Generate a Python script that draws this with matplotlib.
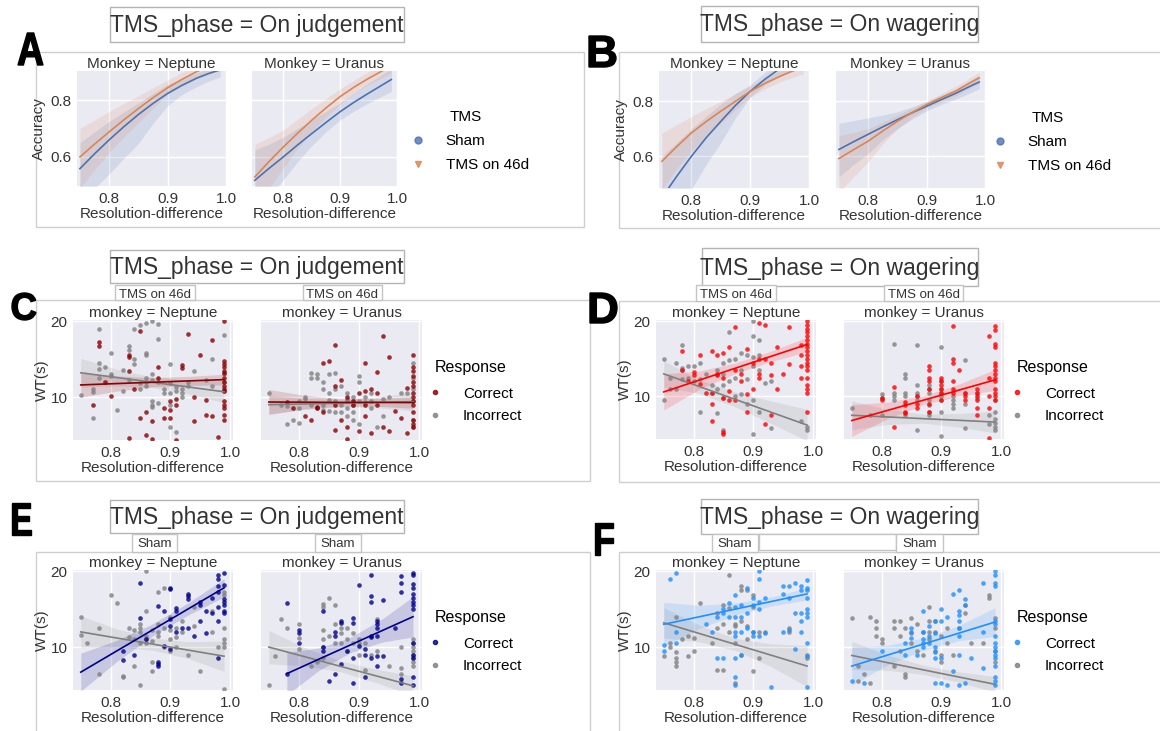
import numpy as np
import matplotlib
matplotlib.use("Agg")
import matplotlib.pyplot as plt
from matplotlib.patches import Rectangle, PathPatch
from matplotlib.lines import Line2D
from matplotlib.textpath import TextPath
from matplotlib.transforms import Affine2D, IdentityTransform
from matplotlib.font_manager import FontProperties

plt.rcParams["font.family"] = ["Liberation Sans", "DejaVu Sans"]

# ---------------- accuracy curves (panels A, B) ----------------
ACC_X = [0.75, 0.775, 0.80, 0.825, 0.85, 0.875, 0.90, 0.925, 0.95, 0.97, 0.99]

A_NEP_SHAM = [0.559, 0.611, 0.66, 0.706, 0.749, 0.788, 0.823, 0.852, 0.877, 0.893, 0.906]
A_NEP_SHAM_LO = [0.44, 0.49, 0.54, 0.595, 0.647, 0.718, 0.78, 0.82, 0.847, 0.866, 0.882]
A_NEP_SHAM_HI = [0.65, 0.688, 0.725, 0.758, 0.79, 0.823, 0.855, 0.876, 0.895, 0.91, 0.925]
A_NEP_TMS = [0.60, 0.645, 0.688, 0.73, 0.77, 0.808, 0.843, 0.873, 0.90, 0.918, 0.935]
A_NEP_TMS_LO = [0.49, 0.555, 0.615, 0.67, 0.72, 0.772, 0.82, 0.85, 0.875, 0.89, 0.905]
A_NEP_TMS_HI = [0.70, 0.73, 0.76, 0.788, 0.815, 0.843, 0.87, 0.898, 0.925, 0.943, 0.96]
A_URA_SHAM = [0.518, 0.56, 0.60, 0.642, 0.682, 0.721, 0.759, 0.793, 0.824, 0.848, 0.872]
A_URA_SHAM_LO = [0.40, 0.46, 0.52, 0.583, 0.64, 0.688, 0.73, 0.762, 0.79, 0.81, 0.83]
A_URA_SHAM_HI = [0.625, 0.645, 0.67, 0.70, 0.73, 0.76, 0.79, 0.825, 0.86, 0.885, 0.91]
A_URA_TMS = [0.53, 0.584, 0.635, 0.683, 0.729, 0.772, 0.812, 0.846, 0.876, 0.898, 0.92]
A_URA_TMS_LO = [0.42, 0.49, 0.56, 0.63, 0.69, 0.74, 0.785, 0.823, 0.855, 0.875, 0.895]
A_URA_TMS_HI = [0.645, 0.668, 0.695, 0.732, 0.77, 0.805, 0.84, 0.87, 0.90, 0.922, 0.945]

B_NEP_SHAM = [0.45, 0.527, 0.60, 0.667, 0.727, 0.785, 0.836, 0.88, 0.918, 0.945, 0.97]
B_NEP_SHAM_LO = [0.30, 0.39, 0.48, 0.57, 0.65, 0.74, 0.815, 0.86, 0.89, 0.912, 0.93]
B_NEP_SHAM_HI = [0.60, 0.65, 0.70, 0.745, 0.79, 0.828, 0.86, 0.905, 0.95, 0.975, 1.0]
B_NEP_TMS = [0.582, 0.635, 0.685, 0.726, 0.764, 0.80, 0.836, 0.865, 0.89, 0.908, 0.925]
B_NEP_TMS_LO = [0.48, 0.555, 0.62, 0.672, 0.72, 0.77, 0.815, 0.845, 0.87, 0.885, 0.90]
B_NEP_TMS_HI = [0.685, 0.715, 0.745, 0.773, 0.80, 0.828, 0.855, 0.883, 0.91, 0.93, 0.95]
B_URA_SHAM = [0.625, 0.653, 0.68, 0.707, 0.733, 0.758, 0.782, 0.806, 0.829, 0.85, 0.87]
B_URA_SHAM_LO = [0.525, 0.57, 0.61, 0.66, 0.70, 0.735, 0.765, 0.788, 0.808, 0.826, 0.845]
B_URA_SHAM_HI = [0.72, 0.73, 0.74, 0.75, 0.762, 0.78, 0.80, 0.822, 0.845, 0.87, 0.895]
B_URA_TMS = [0.592, 0.624, 0.655, 0.692, 0.727, 0.759, 0.788, 0.813, 0.837, 0.862, 0.885]
B_URA_TMS_LO = [0.47, 0.525, 0.58, 0.645, 0.70, 0.742, 0.775, 0.798, 0.82, 0.843, 0.865]
B_URA_TMS_HI = [0.675, 0.687, 0.70, 0.725, 0.75, 0.775, 0.80, 0.828, 0.855, 0.88, 0.905]

# ---------------- waiting time scatter (panels C-F) ----------------
# resolution-difference -> WT values
C_NEP_COR = {0.77: [9.0], 0.78: [17.2, 16.7], 0.79: [12.0], 0.80: [10.2],
             0.83: [15.5, 15.3, 13.5, 4.6], 0.84: [11.0], 0.85: [18.7, 7.2],
             0.86: [8.0, 5.0], 0.87: [6.8, 4.5], 0.88: [14.0, 12.5], 0.89: [8.5, 7.2],
             0.90: [9.5, 8.3, 7.3], 0.91: [9.7, 9.0, 4.3], 0.92: [14.2, 13.8],
             0.93: [18.3], 0.94: [6.8, 10.0], 0.95: [15.5], 0.96: [9.6, 7.7],
             0.97: [17.5, 7.5], 0.98: [4.7],
             0.99: [20.0, 14.7, 14.3, 14.0, 13.5, 13.2, 12.5, 12.0, 11.5, 11.0,
                    10.8, 9.5, 9.0, 8.5, 7.7, 7.0]}
C_NEP_INC = {0.75: [10.3], 0.77: [11.0, 10.7, 7.2], 0.78: [18.9, 14.5, 13.7, 12.5],
             0.79: [14.0], 0.80: [15.8, 13.0, 12.8], 0.81: [8.3], 0.82: [13.6, 10.8],
             0.83: [16.7, 16.2, 12.2], 0.84: [19.0, 15.0, 14.3], 0.85: [19.5, 11.8, 11.0],
             0.86: [19.8, 15.8, 15.5, 12.5, 12.0, 11.5],
             0.87: [20.0, 13.0, 12.2, 9.5, 9.0, 8.7], 0.88: [19.6, 17.7, 12.0, 9.2],
             0.89: [11.0, 10.5], 0.90: [14.3, 11.8, 10.5, 9.0, 6.0],
             0.91: [11.3, 10.8, 5.4], 0.92: [11.0, 10.5, 10.0], 0.93: [12.0, 11.5],
             0.94: [13.5], 0.96: [12.2], 0.97: [15.0, 11.5],
             0.99: [18.2, 13.0, 12.0, 10.8]}
C_URA_COR = {0.78: [9.3], 0.79: [8.5], 0.81: [7.5], 0.82: [7.0], 0.83: [8.7, 8.5],
             0.84: [14.5, 8.0], 0.85: [14.8], 0.86: [16.8, 11.5, 9.0, 5.7],
             0.87: [12.2, 7.0], 0.88: [10.0, 6.0, 4.5], 0.89: [9.5, 9.0],
             0.90: [10.5, 5.5], 0.91: [14.5, 10.8, 9.0, 7.5], 0.92: [11.0, 5.3],
             0.93: [13.3, 10.5, 9.0], 0.94: [18.1, 6.0], 0.95: [15.3, 5.5],
             0.96: [8.2], 0.97: [7.2], 0.98: [11.2, 5.3],
             0.99: [15.5, 14.0, 13.5, 12.8, 12.0, 11.5, 10.5, 10.0, 9.5, 9.0,
                    8.0, 7.0, 6.5, 6.0]}
C_URA_INC = {0.75: [10.5], 0.77: [9.0], 0.78: [8.8, 6.5], 0.79: [7.0],
             0.80: [9.5, 8.5, 6.6], 0.81: [10.0, 9.8], 0.82: [13.2, 12.5, 9.0],
             0.83: [13.0, 12.5, 8.5], 0.84: [12.0, 11.0, 9.0, 8.3],
             0.85: [13.0, 10.5, 9.6, 8.2], 0.86: [13.2, 11.0, 9.5, 8.0],
             0.87: [11.5, 9.0, 8.0], 0.88: [10.5, 9.8, 9.5, 8.5, 7.5],
             0.89: [10.0, 9.5, 9.0, 8.0, 7.0], 0.90: [12.8, 12.0, 9.5, 6.5],
             0.91: [10.0, 9.3], 0.92: [10.5, 9.5, 8.5], 0.93: [6.0], 0.94: [9.8, 7.5],
             0.95: [10.0], 0.97: [10.5], 0.98: [10.5],
             0.99: [14.5, 12.5, 11.0, 9.5, 7.0, 6.0]}

D_NEP_COR = {0.78: [16.0, 13.5], 0.79: [12.0], 0.80: [13.2, 12.8], 0.81: [15.5, 11.7],
             0.82: [10.5], 0.83: [16.0, 10.5, 9.0, 6.8], 0.84: [15.5, 13.0, 12.8],
             0.85: [15.8, 12.5, 9.8, 5.3, 5.0], 0.86: [16.5, 10.7, 9.5],
             0.87: [19.2, 13.5, 9.5], 0.88: [13.0, 12.0], 0.89: [16.3, 10.3, 8.0],
             0.90: [14.5, 11.0], 0.91: [19.8, 15.0, 13.0, 12.5],
             0.92: [19.5, 15.0, 6.3], 0.93: [14.5, 12.8, 7.5], 0.94: [16.5, 11.0],
             0.95: [13.0], 0.96: [19.2, 14.3], 0.98: [16.8, 15.5, 14.0, 12.5],
             0.99: [20.0, 19.5, 19.0, 18.5, 18.0, 17.5, 17.0, 16.5, 16.0, 15.5,
                    15.0, 14.5, 14.0, 13.5, 12.5, 11.5, 11.0, 10.5, 8.0]}
D_NEP_INC = {0.75: [15.0, 9.5], 0.76: [12.5, 11.0], 0.77: [14.5, 11.0],
             0.78: [16.8, 13.8, 13.5, 12.3], 0.79: [14.0, 12.5], 0.80: [14.0, 12.0],
             0.81: [14.5, 12.3, 8.0], 0.82: [13.0], 0.83: [11.5, 10.5],
             0.84: [13.5, 11.0, 7.8], 0.85: [14.5, 13.0, 11.5, 9.8, 5.5],
             0.86: [18.5, 14.8, 12.0], 0.87: [15.0, 12.5, 10.0],
             0.88: [15.8, 13.5, 10.3], 0.89: [15.5, 12.3, 9.0],
             0.90: [20.0, 18.0, 15.3, 14.0, 9.5, 5.0], 0.91: [17.5, 15.5, 13.5, 8.0],
             0.92: [11.8], 0.93: [12.0, 5.8], 0.98: [6.8], 0.99: [6.0, 5.5]}
D_URA_COR = {0.80: [9.8, 9.5], 0.82: [11.3, 6.0], 0.84: [9.3, 8.8, 8.0, 7.8],
             0.86: [10.0, 9.0, 8.5], 0.88: [14.0, 13.5, 12.5, 12.0, 11.0, 9.0, 8.0],
             0.90: [12.5, 12.0, 11.5, 11.0, 10.5, 9.5],
             0.92: [19.3, 15.0, 14.5, 12.0, 11.0, 10.5], 0.93: [13.5],
             0.94: [10.5, 10.0, 9.5], 0.96: [11.0, 10.5, 10.0, 9.5, 8.5, 7.6],
             0.98: [18.0, 12.5, 10.0, 8.5, 4.5],
             0.99: [19.3, 18.8, 17.0, 16.5, 14.5, 14.0, 13.5, 13.0, 12.5, 12.0,
                    11.0, 10.5, 10.0, 9.5]}
D_URA_INC = {0.75: [8.5], 0.78: [7.5], 0.80: [10.3, 9.8, 7.5],
             0.82: [17.0, 10.5, 10.0, 9.5], 0.84: [13.0, 12.5, 10.5, 10.0, 7.5],
             0.86: [16.8, 11.5, 10.5, 10.0, 9.5, 5.5],
             0.88: [11.5, 11.0, 10.5, 9.5, 8.8, 8.0, 7.5],
             0.90: [16.5, 12.0, 11.0, 10.5, 10.0, 9.5, 8.0, 4.8],
             0.92: [10.0, 9.5, 9.0, 8.5], 0.94: [14.8, 10.5, 9.0, 5.8],
             0.96: [10.5, 9.8], 0.98: [7.5, 6.3],
             0.99: [9.5, 8.0, 7.0, 6.5, 6.0, 5.5]}

E_NEP_COR = {0.82: [9.5, 8.3], 0.84: [9.0], 0.85: [18.4, 13.8], 0.86: [11.0],
             0.88: [15.4, 8.0, 7.8, 7.5], 0.89: [14.8, 10.2],
             0.90: [17.8, 17.6, 13.7, 12.8, 9.8], 0.91: [15.2, 14.8, 12.0],
             0.92: [12.5], 0.93: [17.0, 16.7, 16.3, 12.5], 0.94: [11.5],
             0.95: [16.0, 15.5, 13.5], 0.96: [14.8, 11.8], 0.97: [16.5, 14.5],
             0.98: [19.5, 19.0, 18.0, 17.3, 15.3, 13.5, 8.5],
             0.99: [19.7, 18.2, 16.3, 16.0, 15.5, 14.8, 14.5]}
E_NEP_INC = {0.75: [14.0, 11.6], 0.76: [10.5], 0.78: [12.5, 6.5], 0.80: [16.8],
             0.81: [15.8], 0.82: [6.2, 6.0], 0.83: [12.5, 11.3],
             0.84: [12.2, 11.0, 7.5], 0.85: [13.0, 12.5, 12.0, 10.5, 5.0],
             0.86: [20.0, 14.8, 11.5, 11.0, 10.5], 0.87: [12.3, 10.8, 8.0, 6.8],
             0.88: [17.3, 13.0, 12.0, 11.5], 0.89: [17.8, 12.5, 10.0],
             0.90: [14.0, 12.3, 11.0, 9.5], 0.91: [12.5, 11.3, 10.0],
             0.92: [13.5, 12.0], 0.93: [9.0], 0.94: [15.3, 12.8], 0.95: [6.8],
             0.97: [14.8, 12.0], 0.98: [10.0],
             0.99: [17.2, 16.8, 12.5, 11.0, 10.5, 10.0, 4.5]}
E_URA_COR = {0.78: [15.8, 6.5], 0.80: [12.2, 11.8, 10.5], 0.84: [14.8, 10.0, 9.5],
             0.85: [5.5], 0.86: [12.0, 11.5, 6.5], 0.87: [13.4, 13.2, 7.8],
             0.88: [9.5], 0.89: [13.8, 13.2, 8.5, 5.3], 0.90: [18.2, 10.2],
             0.91: [9.8, 9.0, 6.0], 0.92: [19.5, 16.7, 16.0, 11.5, 11.3, 8.5],
             0.93: [13.5, 13.0, 12.5, 11.5, 8.8, 7.5], 0.94: [16.2, 8.8],
             0.96: [12.5], 0.97: [19.3, 18.5, 17.3, 5.8, 5.3],
             0.99: [19.8, 19.5, 18.3, 17.8, 17.0, 16.5, 16.0, 15.5, 15.0, 10.5,
                    9.0, 8.5, 6.0, 5.0]}
E_URA_INC = {0.75: [5.0], 0.76: [8.8], 0.77: [13.7], 0.78: [12.5],
             0.80: [13.0, 11.2, 9.7], 0.82: [7.5], 0.83: [8.0],
             0.84: [15.7, 15.3, 12.3, 11.0, 10.0, 8.5], 0.85: [16.5, 11.5],
             0.86: [15.5, 13.0, 10.5], 0.87: [12.5, 11.8, 10.5],
             0.88: [12.5, 11.0, 9.5], 0.89: [11.8, 10.5], 0.90: [11.0, 10.5, 9.0],
             0.91: [10.5, 7.0], 0.92: [9.0], 0.93: [13.7, 9.5], 0.95: [7.5],
             0.97: [10.0, 7.3, 6.5],
             0.99: [11.0, 10.5, 10.0, 9.5, 9.0, 8.5, 8.0, 7.5]}

F_NEP_COR = {0.75: [10.3, 9.5], 0.76: [19.0], 0.77: [19.8, 12.0, 10.5], 0.82: [13.0],
             0.83: [12.0], 0.84: [14.0, 8.5], 0.85: [15.0, 14.5, 8.5],
             0.86: [15.8, 14.0], 0.87: [16.8, 15.3, 14.0, 12.0, 11.5, 8.5, 6.0, 5.0],
             0.88: [15.5, 14.0, 12.0, 9.0], 0.89: [17.8, 14.5, 12.5],
             0.90: [16.5, 15.5, 12.0, 11.5], 0.91: [20.0, 19.0, 16.0, 15.0, 11.5],
             0.92: [16.5, 11.8], 0.93: [4.8], 0.95: [18.0, 17.0, 12.0],
             0.96: [18.0, 16.5, 12.2], 0.97: [18.5, 14.5, 9.8],
             0.98: [18.0, 17.5, 14.5, 13.5, 12.0],
             0.99: [18.8, 17.8, 17.5, 16.5, 15.0, 14.5, 14.0, 10.5, 8.8, 4.8]}
F_NEP_INC = {0.75: [8.8], 0.76: [10.5, 10.0], 0.77: [14.0, 9.3, 8.5, 8.0, 7.5],
             0.78: [11.0], 0.79: [11.5, 8.8], 0.80: [11.2, 9.5], 0.81: [15.8],
             0.83: [10.5], 0.84: [14.5, 12.5, 7.0], 0.85: [15.5, 13.0, 7.0],
             0.86: [19.5, 15.2, 12.0], 0.87: [13.0, 12.8, 10.5, 5.3],
             0.88: [18.0, 17.5, 13.5, 9.0], 0.89: [17.5, 12.8, 11.0],
             0.90: [16.8, 15.3, 12.0, 6.8], 0.91: [12.0, 8.5], 0.92: [12.0],
             0.96: [12.5, 12.0], 0.99: [9.0, 8.5]}
F_URA_COR = {0.75: [5.5], 0.77: [5.3], 0.80: [9.5], 0.84: [10.5, 9.0],
             0.85: [12.5, 12.0, 11.2], 0.86: [9.0],
             0.87: [14.8, 12.0, 11.0, 10.5, 10.0], 0.88: [12.8, 11.5, 10.5],
             0.89: [13.5, 11.8, 10.0, 9.3, 8.5, 5.3], 0.90: [15.0, 13.5, 8.5, 5.3],
             0.91: [14.0, 5.0], 0.92: [17.0, 6.8],
             0.93: [17.5, 14.8, 14.2, 13.5, 12.5, 11.5, 9.0, 5.0],
             0.94: [16.3, 15.5, 5.3], 0.95: [8.5], 0.97: [18.5, 12.0, 7.3],
             0.99: [20.0, 19.5, 18.5, 18.0, 13.5, 13.0, 11.5, 10.5, 10.0, 9.5,
                    9.0, 8.5, 7.5, 6.0, 5.5, 5.0]}
F_URA_INC = {0.75: [13.8], 0.76: [7.5, 5.5], 0.77: [6.5], 0.78: [14.0, 5.3],
             0.79: [13.5, 12.5, 11.5], 0.80: [11.0, 10.5], 0.82: [13.5, 12.5, 7.5],
             0.83: [13.5, 11.5, 9.5], 0.84: [12.5, 6.5, 6.0],
             0.85: [13.8, 11.8, 10.5], 0.86: [13.0, 9.5], 0.87: [12.0, 9.0],
             0.88: [15.3, 13.5, 12.0, 11.0], 0.89: [13.5, 12.0, 9.5],
             0.90: [11.5, 9.0, 8.0], 0.91: [12.5, 10.5], 0.92: [9.0], 0.93: [12.5],
             0.94: [15.5, 14.5], 0.95: [10.5], 0.97: [10.5], 0.98: [16.8, 16.5],
             0.99: [13.8, 12.5, 9.5, 8.0]}

# regression fits: x positions, fitted WT, CI half width
FIT_X = [0.75, 0.81, 0.87, 0.93, 0.99]
FIT_X_LATE = [0.78, 0.8325, 0.885, 0.9375, 0.99]

C_NEP_COR_FIT = [11.6, 11.78, 11.95, 12.13, 12.3]
C_NEP_COR_HW = [1.6, 1.0, 0.6, 0.6, 0.7]
C_NEP_INC_FIT = [13.2, 12.58, 11.95, 11.33, 10.7]
C_NEP_INC_HW = [1.9, 1.1, 0.7, 0.9, 1.45]
C_URA_COR_FIT = [9.35, 9.33, 9.3, 9.3, 9.28]
C_URA_COR_HW = [1.65, 0.9, 0.5, 0.5, 0.75]
C_URA_INC_FIT = [9.0, 9.1, 9.2, 9.3, 9.4]
C_URA_INC_HW = [1.2, 0.7, 0.5, 0.7, 1.2]

D_NEP_COR_FIT = [10.6, 12.18, 13.75, 15.33, 16.9]
D_NEP_COR_HW = [2.4, 1.2, 0.7, 0.7, 0.95]
D_NEP_INC_FIT = [13.0, 11.3, 9.6, 7.9, 6.2]
D_NEP_INC_HW = [1.75, 0.9, 1.0, 1.5, 2.1]
D_URA_COR_FIT = [6.8, 8.15, 9.5, 10.85, 12.2]
D_URA_COR_HW = [2.1, 1.1, 0.6, 0.8, 1.4]
D_URA_INC_FIT = [7.5, 7.28, 7.05, 6.83, 6.6]
D_URA_INC_HW = [1.9, 1.0, 0.6, 0.9, 1.45]

E_NEP_COR_FIT = [6.7, 9.48, 12.25, 15.03, 17.8]
E_NEP_COR_HW = [2.5, 1.4, 0.8, 0.8, 1.2]
E_NEP_INC_FIT = [12.0, 11.2, 10.4, 9.6, 8.8]
E_NEP_INC_HW = [2.1, 1.2, 0.8, 1.1, 2.0]
E_URA_COR_FIT = [6.5, 8.38, 10.25, 12.13, 14.0]
E_URA_COR_HW = [2.8, 1.5, 1.0, 1.5, 2.65]
E_URA_INC_FIT = [10.0, 8.73, 7.45, 6.18, 4.9]
E_URA_INC_HW = [2.2, 1.2, 0.7, 0.9, 1.3]

F_NEP_COR_FIT = [13.0, 14.0, 15.0, 16.0, 17.0]
F_NEP_COR_HW = [2.9, 1.5, 0.8, 0.6, 0.8]
F_NEP_INC_FIT = [13.2, 11.78, 10.35, 8.93, 7.5]
F_NEP_INC_HW = [2.0, 1.1, 0.8, 1.5, 2.7]
F_URA_COR_FIT = [7.5, 8.95, 10.4, 11.85, 13.3]
F_URA_COR_HW = [2.5, 1.3, 0.8, 1.0, 1.9]
F_URA_INC_FIT = [8.9, 7.95, 7.0, 6.05, 5.1]
F_URA_INC_HW = [1.85, 1.0, 0.6, 0.7, 1.0]

SHAM_C = "#4C72B0"
TMS_C = "#DD8452"
INC_C = "#808080"
TXT = "0.2"
FS = 11

W, H = 1160, 731
fig = plt.figure(figsize=(W / 100, H / 100), dpi=100)


def px_axes(x0, y0, x1, y1):
    return fig.add_axes([x0 / W, 1 - y1 / H, (x1 - x0) / W, (y1 - y0) / H])


def px_box(x0, y0, x1, y1, ec="#b4b4b4", z=1):
    fig.add_artist(Rectangle((x0 / W, 1 - y1 / H), (x1 - x0) / W, (y1 - y0) / H,
                             transform=fig.transFigure, fc="white", ec=ec, lw=1,
                             zorder=z))


def px_text(x, y, s, **kw):
    fig.text(x / W, 1 - y / H, s, ha="center", va="center", color=TXT, zorder=3, **kw)


LETTER_FP = FontProperties(family="Liberation Sans", weight="bold")


def px_letter(s, x0, y0, x1, y1):
    # bold panel letter squeezed into its pixel box
    tp = TextPath((0, 0), s, size=100, prop=LETTER_FP)
    bb = tp.get_extents()
    tr = (Affine2D().translate(-bb.x0, -bb.y0)
          .scale((x1 - x0) / bb.width, (y1 - y0) / bb.height)
          .translate(x0, H - y1))
    fig.add_artist(PathPatch(tr.transform_path(tp), transform=IdentityTransform(),
                             fc="black", ec="black", lw=1.0, zorder=4))


def style(ax, xlim, ylim, yticks, title, left):
    ax.set_facecolor("#EAEAF2")
    for sp in ax.spines.values():
        sp.set_visible(False)
    ax.grid(True, color="white", lw=1)
    ax.set_axisbelow(True)
    ax.set_xlim(xlim)
    ax.set_ylim(ylim)
    ax.set_xticks([0.8, 0.9, 1.0])
    ax.set_xticklabels(["0.8", "0.9", "1.0"])
    ax.set_yticks(yticks)
    ax.set_yticklabels([str(t) for t in yticks])
    ax.tick_params(length=0, labelsize=FS, colors=TXT, pad=4)
    if not left:
        ax.tick_params(labelleft=False)
    ax.set_xlabel("Resolution-difference", fontsize=FS, color=TXT, labelpad=1)
    ax.set_title(title, fontsize=FS, color=TXT, pad=2)


# panel frames
px_box(36, 52, 584, 227, ec="#cfcfcf", z=-1)
px_box(619, 52, 1170, 228, ec="#cfcfcf", z=-1)
px_box(36, 300, 590, 481, ec="#cfcfcf", z=-1)
px_box(619, 301, 1170, 482, ec="#cfcfcf", z=-1)
px_box(36, 552, 590, 745, ec="#cfcfcf", z=-1)
px_box(619, 552, 1170, 745, ec="#cfcfcf", z=-1)

# phase title boxes
for (x0, y0, x1, y1), s in [((110, 7, 404, 42), "TMS_phase = On judgement"),
                            ((701, 6, 978, 42), "TMS_phase = On wagering"),
                            ((110, 250, 404, 283), "TMS_phase = On judgement"),
                            ((702, 248, 978, 286), "TMS_phase = On wagering"),
                            ((110, 500, 404, 533), "TMS_phase = On judgement"),
                            ((701, 499, 978, 534), "TMS_phase = On wagering")]:
    px_box(x0, y0, x1, y1)
    px_text((x0 + x1) / 2, (y0 + y1) / 2 + 1, s, fontsize=16.5)

# small condition boxes
for (x0, y0, x1, y1), s in [((115, 285, 195, 300), "TMS on 46d"),
                            ((303, 285, 382, 300), "TMS on 46d"),
                            ((696, 285, 776, 301), "TMS on 46d"),
                            ((884, 285, 963, 301), "TMS on 46d"),
                            ((132, 534, 177, 552), "Sham"),
                            ((315, 534, 361, 552), "Sham"),
                            ((712, 534, 758, 552), "Sham"),
                            ((759, 534, 896, 550), ""),
                            ((896, 534, 943, 552), "Sham")]:
    px_box(x0, y0, x1, y1, ec="#c4c4c4")
    if s:
        px_text((x0 + x1) / 2, y0 + 10, s, fontsize=9.5)

# panel letters
for s, box in [("A", (18, 33, 43, 65)), ("B", (589, 36, 616, 67)),
               ("C", (12, 293, 36, 320)), ("D", (590, 293, 617, 323)),
               ("E", (12, 503, 31, 535)), ("F", (595, 523, 613, 555))]:
    px_letter(s, *box)

# ---------------- A and B ----------------
acc_sets = [
    ((77, 71, 226, 186), (252, 71, 397, 186), (0.498, 0.902),
     [(A_NEP_SHAM, A_NEP_SHAM_LO, A_NEP_SHAM_HI, A_NEP_TMS, A_NEP_TMS_LO, A_NEP_TMS_HI),
      (A_URA_SHAM, A_URA_SHAM_LO, A_URA_SHAM_HI, A_URA_TMS, A_URA_TMS_LO, A_URA_TMS_HI)],
     (403, 110)),
    ((659, 71, 809, 188), (836, 71, 985, 188), (0.485, 0.91),
     [(B_NEP_SHAM, B_NEP_SHAM_LO, B_NEP_SHAM_HI, B_NEP_TMS, B_NEP_TMS_LO, B_NEP_TMS_HI),
      (B_URA_SHAM, B_URA_SHAM_LO, B_URA_SHAM_HI, B_URA_TMS, B_URA_TMS_LO, B_URA_TMS_HI)],
     (985, 111)),
]
for pos_l, pos_r, ylim, curves, leg in acc_sets:
    for i, (pos, title) in enumerate([(pos_l, "Monkey = Neptune"), (pos_r, "Monkey = Uranus")]):
        ax = px_axes(*pos)
        style(ax, (0.745, 1.0), ylim, [0.6, 0.8], title, i == 0)
        sh, sh_lo, sh_hi, tm, tm_lo, tm_hi = curves[i]
        ax.fill_between(ACC_X, sh_lo, sh_hi, color=SHAM_C, alpha=0.15, lw=0)
        ax.fill_between(ACC_X, tm_lo, tm_hi, color=TMS_C, alpha=0.15, lw=0)
        ax.plot(ACC_X, sh, color=SHAM_C, lw=1.2)
        ax.plot(ACC_X, tm, color=TMS_C, lw=1.2)
        if i == 0:
            ax.set_ylabel("Accuracy", fontsize=FS, color=TXT, labelpad=3)
    handles = [Line2D([], [], ls="", marker="o", ms=5, color=SHAM_C, alpha=0.8),
               Line2D([], [], ls="", marker="v", ms=5, color=TMS_C, alpha=0.8)]
    fig.legend(handles, ["Sham", "TMS on 46d"], title="TMS", loc="upper left",
               bbox_to_anchor=(leg[0] / W, 1 - leg[1] / H), frameon=False,
               fontsize=FS, title_fontsize=11, borderpad=0, borderaxespad=0,
               labelspacing=0.65)

# ---------------- C to F ----------------
wt_sets = [
    ((73, 320, 233, 440), (261, 320, 422, 440), "#8B0000",
     [(C_NEP_COR, C_NEP_INC, FIT_X, C_NEP_COR_FIT, C_NEP_COR_HW, C_NEP_INC_FIT, C_NEP_INC_HW),
      (C_URA_COR, C_URA_INC, FIT_X, C_URA_COR_FIT, C_URA_COR_HW, C_URA_INC_FIT, C_URA_INC_HW)],
     (420, 360)),
    ((656, 320, 816, 439), (844, 320, 1004, 439), "red",
     [(D_NEP_COR, D_NEP_INC, FIT_X, D_NEP_COR_FIT, D_NEP_COR_HW, D_NEP_INC_FIT, D_NEP_INC_HW),
      (D_URA_COR, D_URA_INC, FIT_X, D_URA_COR_FIT, D_URA_COR_HW, D_URA_INC_FIT, D_URA_INC_HW)],
     (1002, 360)),
    ((73, 570, 233, 690), (261, 570, 422, 690), "darkblue",
     [(E_NEP_COR, E_NEP_INC, FIT_X, E_NEP_COR_FIT, E_NEP_COR_HW, E_NEP_INC_FIT, E_NEP_INC_HW),
      (E_URA_COR, E_URA_INC, FIT_X_LATE, E_URA_COR_FIT, E_URA_COR_HW, E_URA_INC_FIT, E_URA_INC_HW)],
     (420, 610)),
    ((656, 570, 816, 690), (844, 570, 1004, 690), "dodgerblue",
     [(F_NEP_COR, F_NEP_INC, FIT_X, F_NEP_COR_FIT, F_NEP_COR_HW, F_NEP_INC_FIT, F_NEP_INC_HW),
      (F_URA_COR, F_URA_INC, FIT_X, F_URA_COR_FIT, F_URA_COR_HW, F_URA_INC_FIT, F_URA_INC_HW)],
     (1002, 610)),
]
for pos_l, pos_r, cor_c, subsets, leg in wt_sets:
    for i, (pos, title) in enumerate([(pos_l, "monkey = Neptune"), (pos_r, "monkey = Uranus")]):
        ax = px_axes(*pos)
        style(ax, (0.737, 1.005), (4.35, 20.15), [10, 20], title, i == 0)
        cor, inc, cor_x, cor_fit, cor_hw, inc_fit, inc_hw = subsets[i]
        for data, c in [(inc, INC_C), (cor, cor_c)]:
            xs = [x for x, v in data.items() for _ in v]
            ys = [y for v in data.values() for y in v]
            ax.scatter(xs, ys, s=11, color=c, alpha=0.8, linewidths=0, zorder=3)
        for fx, fit, hw, c in [(FIT_X, inc_fit, inc_hw, INC_C), (cor_x, cor_fit, cor_hw, cor_c)]:
            fit = np.array(fit)
            hw = np.array(hw)
            ax.fill_between(fx, fit - hw, fit + hw, color=c, alpha=0.15, lw=0, zorder=2)
            ax.plot(fx, fit, color=c, lw=1.2, zorder=4)
        if i == 0:
            ax.set_ylabel("WT(s)", fontsize=FS, color=TXT, labelpad=1)
    handles = [Line2D([], [], ls="", marker="o", ms=3, color=cor_c, alpha=0.8),
               Line2D([], [], ls="", marker="o", ms=3, color=INC_C, alpha=0.8)]
    lg = fig.legend(handles, ["Correct", "Incorrect"], title="Response", loc="upper left",
                    bbox_to_anchor=(leg[0] / W, 1 - leg[1] / H), frameon=False,
                    fontsize=FS, title_fontsize=11.5, borderpad=0, borderaxespad=0,
                    labelspacing=0.55)
    lg._legend_box.sep = 8.5

fig.savefig("out.png", dpi=100)
